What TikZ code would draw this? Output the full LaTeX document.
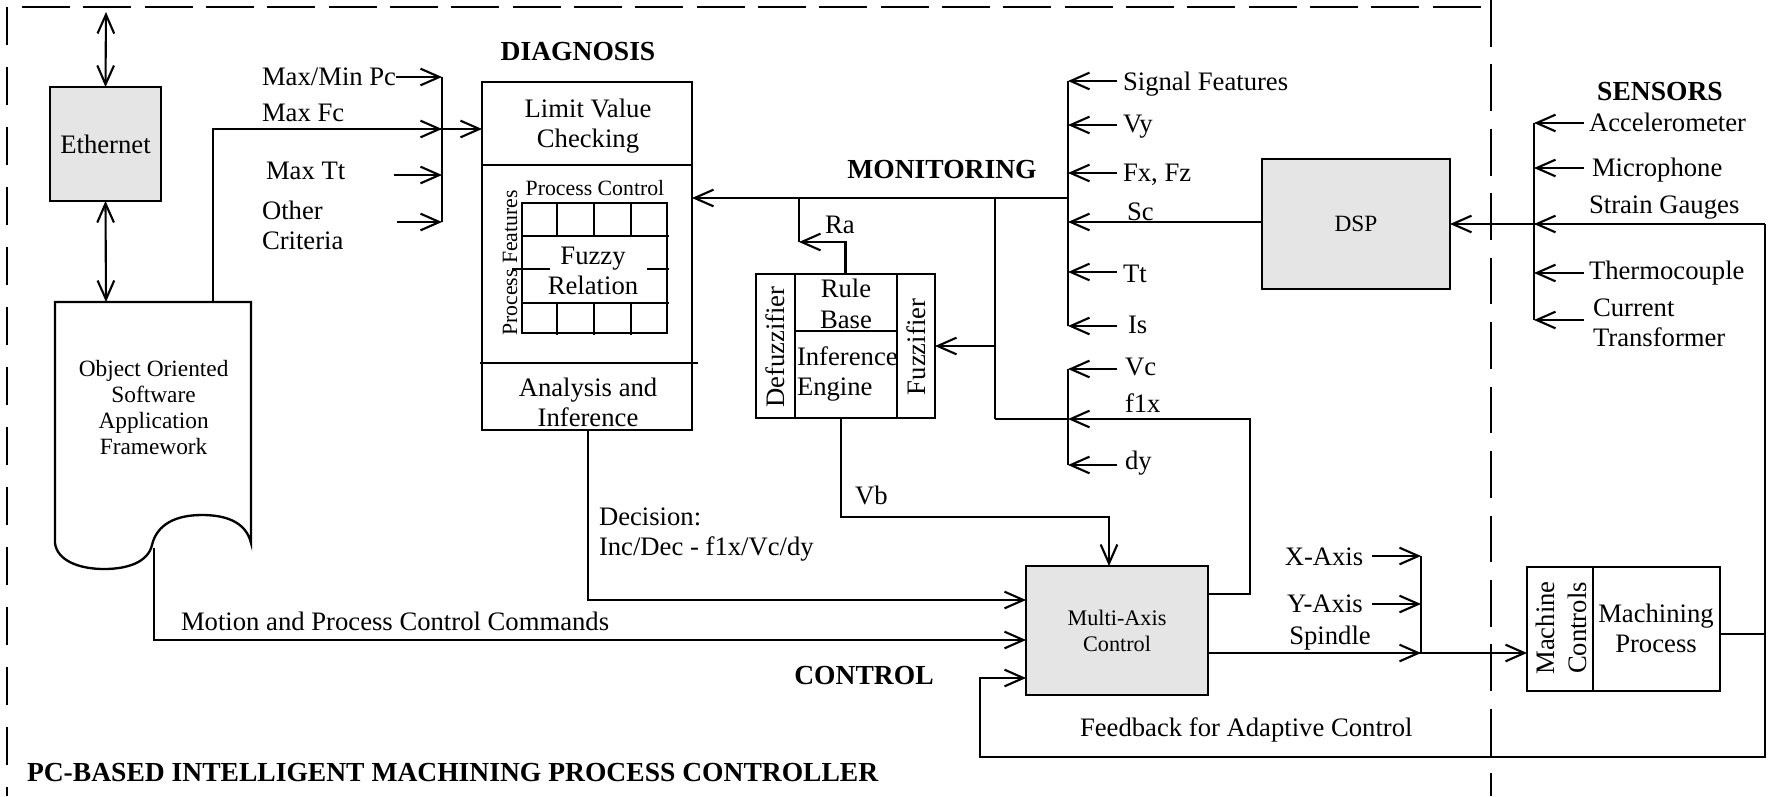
\documentclass[tikz,border=0pt]{standalone}
\usepackage{fontspec}
\setmainfont{Liberation Serif}
\usetikzlibrary{arrows.meta,calc}
\newcommand{\pxu}{0.45pt}
\tikzset{
  every node/.style={font=\fontsize{12}{13.5}\selectfont, inner sep=0pt, outer sep=0pt},
  box/.style={draw, line width=1.05pt, rectangle},
  graybox/.style={box, fill=gray!20},
  conn/.style={line width=0.95pt},
  arr/.style={conn, -{Straight Barb[length=8.5pt,width=7.5pt]}},
  darr/.style={conn, {Straight Barb[length=8.5pt,width=7.5pt]}-{Straight Barb[length=8.5pt,width=7.5pt]}},
  thinln/.style={line width=0.5pt},
  framel/.style={line width=0.55pt},
  lbl/.style={anchor=west},
  boldlbl/.style={font=\fontsize{12.4}{13.5}\selectfont\bfseries},
  smalltxt/.style={font=\fontsize{10.5}{11.7}\selectfont},
  tinytxt/.style={font=\fontsize{9.8}{10}\selectfont},
}
\begin{document}
\begin{tikzpicture}[x=0.45pt,y=-0.45pt]
\useasboundingbox (0,0) rectangle (1773,796);

% frame
\draw[framel, dash pattern=on 21.6pt off 6pt] (22,7) -- (1491,7);
\draw[framel, dash pattern=on 17pt off 10pt] (7,7) -- (7,796);
\draw[framel, dash pattern=on 21pt off 8pt] (1491,0) -- (1491,796);

% Ethernet and software framework
\node[graybox, minimum width=111*\pxu, minimum height=114*\pxu] (eth) at (105.5,144) {Ethernet};
\coordinate (nettop) at (106,12);
\draw[box] (55,302) -- (251,302) -- (251,543) .. controls (246,522) and (226,515) .. (202,515)
  .. controls (176,515) and (157,524) .. (152,545) .. controls (148,562) and (128,569) .. (104,569)
  .. controls (78,569) and (57,560) .. (55,543) -- cycle;
\node[smalltxt, align=center] (doc) at (153.6,407.5) {Object Oriented\\Software\\Application\\Framework};
\coordinate (doctop) at (106,302);
\coordinate (docfc) at (213,302);
\coordinate (docmc) at (154,548);
\draw[darr] (eth.north) -- (nettop);
\draw[darr] (eth.south) -- (doctop);

% Diagnosis
\node[boldlbl] (diagl) at (578,52) {DIAGNOSIS};
\node[box, minimum width=210*\pxu, minimum height=83*\pxu] (lvc) at (587,123.5) {};
\node[align=center] (lvct) at (588,126) {Limit Value\\Checking};
\node[box, minimum width=210*\pxu, minimum height=198*\pxu] (pc) at (587,264) {};
\node[box, minimum width=210*\pxu, minimum height=67*\pxu] (ai) at (587,396.5) {};
\node[align=center] (ait) at (588,402) {Analysis and\\Inference};
\draw[box] (480,363) -- (698,363);
\node[draw, line width=0.7pt, minimum width=145*\pxu, minimum height=130*\pxu] (grid) at (594.5,268) {};
\draw[thinln] (522,236) -- (669,236) (522,303) -- (669,303) (512,269) -- (550,269) (647,269) -- (669,269);
\foreach \x in {557,594,631} \draw[thinln] (\x,203) -- (\x,236) (\x,303) -- (\x,335);
\node[align=center] (fr) at (593,271) {Fuzzy\\Relation};
\node[tinytxt] (pcl) at (595,188) {Process Control};
\node[tinytxt, rotate=90] (pfl) at (510,263) {Process Features};

% criteria inputs
\coordinate (barT) at (442,77);
\coordinate (barB) at (442,222);
\draw[conn] (barT) -- (barB);
\node[lbl] (mmpc) at (262,77) {Max/Min Pc};
\node[lbl] (mfc) at (262,113) {Max Fc};
\node[lbl] (mtt) at (266,171) {Max Tt};
\node[lbl, align=left] (oc) at (262,225) {Other\\Criteria};
\draw[arr] (mmpc.east) -- (barT);
\draw[arr] (394,175) -- (barT |- 0,175);
\draw[arr] (397,222) -- (barB);
\coordinate (fcin) at (482,129);
\draw[arr] (docfc) |- (fcin);
\draw[arr] (docfc) |- (barT |- fcin);

% Monitoring
\node[boldlbl] (monl) at (942,170) {MONITORING};
\coordinate (busT) at (1068,81);
\coordinate (busB) at (1068,326);
\coordinate (busM) at (1068,198);
\draw[conn] (busT) -- (busB);
\draw[arr] (busM) -- (pc.east |- busM);
\draw[arr] (1117,81) -- (busT);
\node[lbl] (sfl) at (1123,84) {Signal Features};
\foreach \y/\t in {125/Vy,173/{Fx, Fz},272/Tt} {
  \draw[arr] (1117,\y) -- (1068,\y);
  \node[lbl] at (1123,\y+2) {\t};
}
\draw[arr] (1117,326) -- (busB);
\node[lbl] (isl) at (1128,325) {Is};
\node[lbl] (scl) at (1127,212) {Sc};

% fuzzy logic block
\node[box, minimum width=179*\pxu, minimum height=144*\pxu] (fz) at (845.5,346) {};
\draw[thinln] (795,274) -- (795,418) (897,274) -- (897,418) (795,331) -- (897,331);
\node[rotate=90] (defz) at (775,347) {Defuzzifier};
\node[rotate=90] (fzf) at (916,347) {Fuzzifier};
\node[align=center, font=\fontsize{12}{14}\selectfont] (rb) at (846,303.5) {Rule\\Base};
\node[align=left, anchor=west] (ie) at (797,374) {Inference\\Engine};
\coordinate (raT) at (799,198);
\coordinate (raB) at (799,242);
\draw[conn] (raT) -- (raB);
\draw[arr] (fz.north) |- (raB);
\node[lbl] (ral) at (825,225) {Ra};
\coordinate (fzT) at (995,198);
\coordinate (fzB) at (995,419);
\draw[conn] (fzT) -- (fzB);
\draw[arr] (fzT |- fz.east) -- (fz.east);

% lower bus
\coordinate (lbT) at (1068,369);
\coordinate (lbB) at (1068,465);
\coordinate (lbM) at (1068,419);
\draw[conn] (lbT) -- (lbB);
\draw[arr] (1117,369) -- (lbT);
\draw[arr] (1117,465) -- (lbB);
\draw[conn] (fzB) -- (lbM);
\node[lbl] (vcl) at (1125,367) {Vc};
\node[lbl] (f1xl) at (1125,403) {f1x};
\node[lbl] (dyl) at (1125,463) {dy};

% DSP and sensors
\node[graybox, minimum width=188*\pxu, minimum height=130*\pxu, smalltxt] (dsp) at (1356,224) {DSP};
\draw[arr] (dsp.west |- 0,222) -- (1068,222);
\node[boldlbl] (senl) at (1660,92) {SENSORS};
\coordinate (sbT) at (1534,123);
\coordinate (sbB) at (1534,320);
\draw[conn] (sbT) -- (sbB);
\foreach \y in {123,168,273,320} \draw[arr] (1584,\y) -- (1534,\y);
\node[lbl] (acc) at (1589,122) {Accelerometer};
\node[lbl] (mic) at (1592,170) {Microphone};
\node[lbl] (sgl) at (1589,208) {Strain Gauges};
\node[lbl] (thc) at (1589,273) {Thermocouple};
\node[lbl, align=left] (ctr) at (1593,323) {Current\\Transformer};
\coordinate (loopT) at (1765,224);
\coordinate (loopB) at (1765,757);
\draw[arr] (loopT) -- (dsp.east);
\draw[arr] (loopT) -- (1534,224);

% Control
\node[graybox, minimum width=182*\pxu, minimum height=129*\pxu, align=center, font=\fontsize{10}{11.7}\selectfont] (mac) at (1117,630.5) {Multi-Axis\\Control};
\node[boldlbl] (ctl) at (864,675) {CONTROL};
\draw[arr] (ai.south -| 588,0) |- (mac.west |- 0,600);
\node[lbl, align=left] (decl) at (599,535) {Decision:\\Inc/Dec - f1x/Vc/dy};
\draw[arr] (docmc) |- (mac.west |- 0,640);
\node[lbl] (mpcc) at (181,621) {Motion and Process Control Commands};
\draw[arr] (fz.south -| 841,0) |- (1109,517) -- (mac.north -| 1109,0);
\node[lbl] (vbl) at (855,495) {Vb};
\draw[arr] (mac.east |- 0,594) -| (1250,419) -- (lbM);
\draw[arr] (loopT) -- (loopB) -| (980,678) -- (mac.west |- 0,678);
\node[lbl] (fbl) at (1080,730) {Feedback for Adaptive Control};

% axis outputs
\coordinate (abT) at (1421,556);
\coordinate (abB) at (1421,653);
\draw[conn] (abT) -- (abB);
\draw[arr] (1372,556) -- (abT);
\draw[arr] (1372,604) -- (abT |- 0,604);
\node (xax) at (1324,557) {X-Axis};
\node (yax) at (1325,604) {Y-Axis};
\node (spl) at (1330,638) {Spindle};
\node[box, minimum width=193*\pxu, minimum height=124*\pxu] (mc) at (1623.5,629) {};
\draw[thinln] (1593,567) -- (1593,691);
\node[rotate=90, align=center, font=\fontsize{12}{14.5}\selectfont] (mcl) at (1561,628) {Machine\\Controls};
\node[align=center] (mpl) at (1656,628) {Machining\\Process};
\draw[arr] (mac.east |- 0,653) -- (mc.west |- 0,653);
\draw[arr] (mac.east |- 0,653) -- (abB);
\draw[conn] (mc.east |- 0,634) -- (loopT |- 0,634);

\node[boldlbl, anchor=west] (title) at (27,772) {PC-BASED INTELLIGENT MACHINING PROCESS CONTROLLER};
\end{tikzpicture}
\end{document}
